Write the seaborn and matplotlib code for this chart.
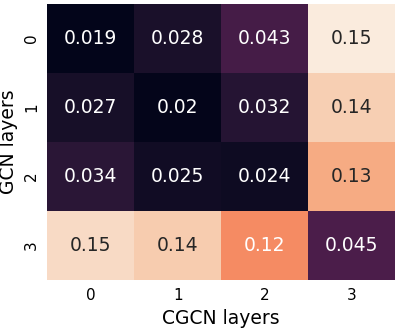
import numpy as np
import pandas as pd
import matplotlib
matplotlib.use('Agg')
import matplotlib.pyplot as plt
import seaborn as sns

# Data
gcn_layers = [0, 1, 2, 3]
cgcn_layers = [0, 1, 2, 3]
row0 = [0.019, 0.028, 0.043, 0.152]
row1 = [0.027, 0.020, 0.032, 0.142]
row2 = [0.034, 0.025, 0.024, 0.130]
row3 = [0.146, 0.141, 0.120, 0.045]

df = pd.DataFrame([row0, row1, row2, row3], index=gcn_layers, columns=cgcn_layers)

fig, ax = plt.subplots(figsize=(4, 3.28), dpi=100)
sns.heatmap(df, annot=True, fmt='.2g', cbar=False, ax=ax,
            annot_kws={'size': 13.5})
ax.set_xlabel('CGCN layers', fontsize=13.5)
ax.set_ylabel('GCN layers', fontsize=13.5)
ax.tick_params(axis='both', labelsize=11, length=0, pad=6)
plt.subplots_adjust(left=0.118, right=0.988, top=0.988, bottom=0.146)
plt.savefig('out.png')
